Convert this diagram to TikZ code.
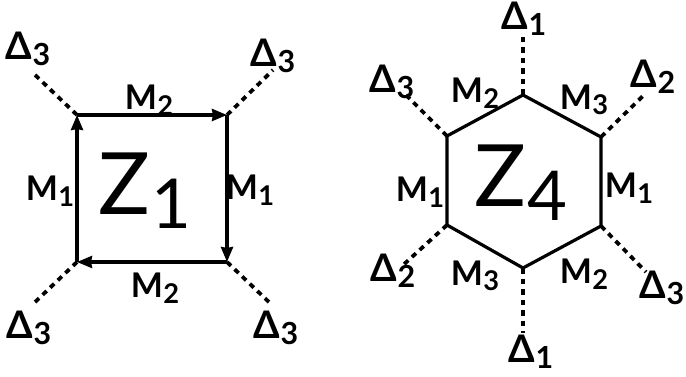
\documentclass[tikz,border=0pt]{standalone}
\usepackage{fontspec}
\usepackage{graphicx}
\setmainfont{Lato}
\usetikzlibrary{arrows.meta}
\newcommand\lsub[2]{#1\kern0.01em\raisebox{-0.16em}{\scalebox{0.8}{#2}}}
\begin{document}
\begin{tikzpicture}[x=1pt,y=-1pt,
  edge/.style={line width=3.2pt},
  arr/.style={line width=3.2pt,-{Stealth[length=15pt,width=12pt,inset=1pt]}},
  dline/.style={line width=3.8pt,dash pattern=on 5.5pt off 5pt},
  mlab/.style={inner sep=0pt,font=\fontsize{34}{34}\selectfont\bfseries},
  dlab/.style={inner sep=0pt,font=\fontsize{38}{38}\selectfont\bfseries},
  zlab/.style={inner sep=0pt,font=\fontsize{86}{86}\selectfont}]
\useasboundingbox (0,0) rectangle (686,377);
% ---- square ----
\coordinate (tl) at (77,115);
\coordinate (tr) at (227,115);
\coordinate (br) at (227,262);
\coordinate (bl) at (77,262);
\draw[arr] (bl) -- (tl);
\draw[arr] (tl) -- (tr);
\draw[arr] (tr) -- (br);
\draw[arr] (br) -- (bl);
\coordinate (etl) at (32,72);
\coordinate (etr) at (273,70);
\coordinate (ebl) at (32,305);
\coordinate (ebr) at (272,305);
\draw[dline] (tl) -- (etl);
\draw[dline] (tr) -- (etr);
\draw[dline] (bl) -- (ebl);
\draw[dline] (br) -- (ebr);
\node[dlab] (dtl) at (28,49) {\lsub{Δ}{3}};
\node[dlab] (dtr) at (273,56) {\lsub{Δ}{3}};
\node[dlab] (dbl) at (29,328) {\lsub{Δ}{3}};
\node[dlab] (dbr) at (276,328) {\lsub{Δ}{3}};
\node[mlab] (mt) at (149,100) {\lsub{M}{2}};
\node[mlab] (ml) at (50,191) {\lsub{M}{1}};
\node[mlab] (mr) at (250,190) {\lsub{M}{1}};
\node[mlab] (mb) at (155,288) {\lsub{M}{2}};
\node[zlab] (z1) at (145,191) {\lsub{Z}{1}};
% ---- hexagon ----
\coordinate (ht) at (523,95);
\coordinate (hur) at (601,137);
\coordinate (hlr) at (601,226);
\coordinate (hb) at (523,268);
\coordinate (hll) at (447,225);
\coordinate (hul) at (447,136);
\draw[edge,line join=round] (ht) -- (hur) -- (hlr) -- (hb) -- (hll) -- (hul) -- cycle;
\coordinate (eht) at (523,34);
\coordinate (ehur) at (646,93);
\coordinate (ehlr) at (646,272);
\coordinate (ehb) at (523,333);
\coordinate (ehll) at (401,267);
\coordinate (ehul) at (403,92);
\draw[dline] (ht) -- (eht);
\draw[dline] (hur) -- (ehur);
\draw[dline] (hlr) -- (ehlr);
\draw[dline] (hb) -- (ehb);
\draw[dline] (hll) -- (ehll);
\draw[dline] (hul) -- (ehul);
\node[dlab] (dht) at (524,19) {\lsub{Δ}{1}};
\node[dlab] (dhul) at (392,82) {\lsub{Δ}{3}};
\node[dlab] (dhur) at (653,77) {\lsub{Δ}{2}};
\node[dlab] (dhll) at (393,271) {\lsub{Δ}{2}};
\node[dlab] (dhlr) at (662,288) {\lsub{Δ}{3}};
\node[dlab] (dhb) at (531,352) {\lsub{Δ}{1}};
\node[mlab] (hm2a) at (475,93) {\lsub{M}{2}};
\node[mlab] (hm3a) at (584,100) {\lsub{M}{3}};
\node[mlab] (hm1l) at (420,192) {\lsub{M}{1}};
\node[mlab] (hm1r) at (629,188) {\lsub{M}{1}};
\node[mlab] (hm3b) at (475,276) {\lsub{M}{3}};
\node[mlab] (hm2b) at (584,274) {\lsub{M}{2}};
\node[zlab] (z4) at (521,183) {\lsub{Z}{4}};
\end{tikzpicture}
\end{document}
